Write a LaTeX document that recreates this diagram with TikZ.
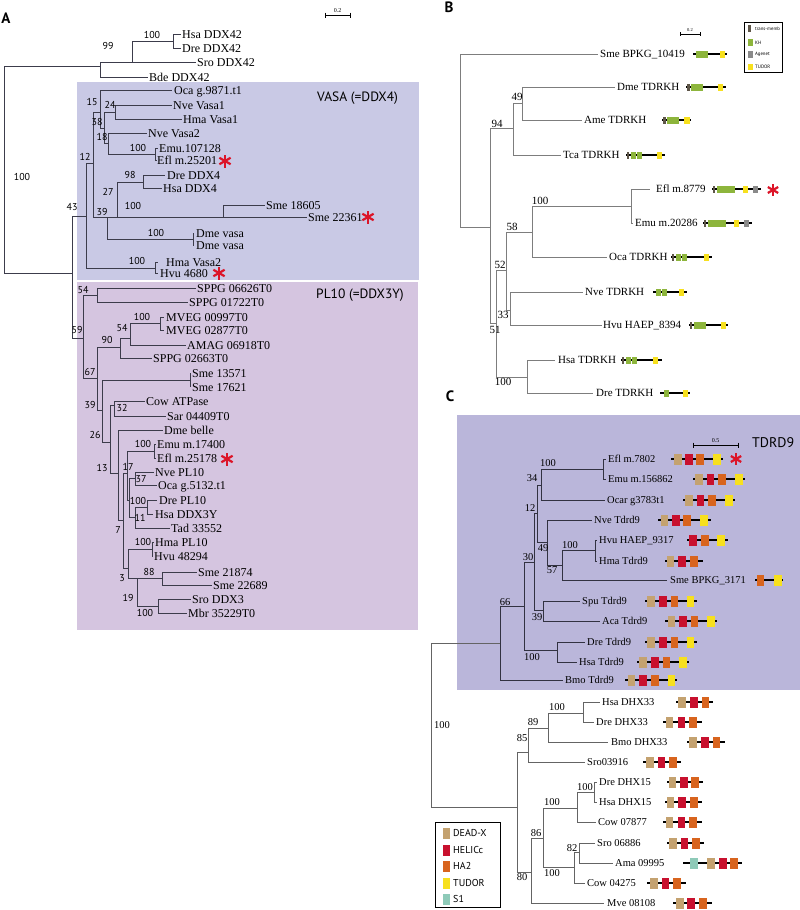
\documentclass[tikz,border=0pt]{standalone}
\usepackage{fontspec}
\setmainfont{Liberation Serif}
\newfontfamily\sansf{PT Sans}
\definecolor{vasabg}{RGB}{201,201,229}
\definecolor{plbg}{RGB}{213,197,224}
\definecolor{cbg}{RGB}{186,182,218}
\definecolor{brA}{RGB}{60,60,75}
\definecolor{brB}{RGB}{125,125,125}
\definecolor{brC}{RGB}{50,50,65}
\definecolor{brC2}{RGB}{100,100,100}
\definecolor{dX}{RGB}{196,162,112}
\definecolor{hC}{RGB}{200,16,46}
\definecolor{hA}{RGB}{216,100,30}
\definecolor{tU}{RGB}{247,224,30}
\definecolor{sO}{RGB}{142,202,184}
\definecolor{khG}{RGB}{141,181,60}
\definecolor{agG}{RGB}{138,138,138}
\definecolor{tmD}{RGB}{94,86,72}
\definecolor{astR}{RGB}{220,20,40}
\tikzset{
  brA/.style={draw=brA, line width=0.75pt},
  brB/.style={draw=brB, line width=0.6pt},
  brC/.style={draw=brC, line width=0.75pt},
  brC2/.style={draw=brC2, line width=0.75pt},
  labA/.style={anchor=west, inner sep=0pt, font=\fontsize{12}{12}\selectfont, text height=8.2pt, text depth=0pt},
  labB/.style={anchor=west, inner sep=0pt, font=\fontsize{11}{11}\selectfont, text height=7.5pt, text depth=0pt},
  labC/.style={anchor=west, inner sep=0pt, font=\fontsize{10.5}{10.5}\selectfont, text height=7.2pt, text depth=0pt},
  bsA/.style={inner sep=0pt, font=\sansf\fontsize{10}{10}\selectfont},
  bsB/.style={inner sep=0pt, font=\fontsize{11}{11}\selectfont},
  bsC/.style={inner sep=0pt, font=\fontsize{10.5}{10.5}\selectfont},
  panel/.style={inner sep=0pt, font=\sansf\bfseries\fontsize{15}{15}\selectfont},
  grp/.style={anchor=west, inner sep=0pt, font=\sansf\fontsize{13.5}{13.5}\selectfont},
  astk/.style={draw=astR, line width=2.2pt},
  dline/.style={draw=black, line width=1.4pt},
  dlineB/.style={draw=black, line width=1.2pt},
  sbar/.style={draw=black, line width=0.5pt},
  legtxt/.style={anchor=west, inner sep=0pt, font=\sansf\fontsize{10}{10}\selectfont},
  legtxtB/.style={anchor=west, inner sep=0pt, font=\sansf\fontsize{4.8}{4.8}\selectfont}
}
\newcommand\lf[6]{\coordinate (#2) at (#3,#4); \node[#1] (#2t) at (#5,#4) {#6};}
\newcommand\tr[3]{\foreach \cc in {#3}{\draw[#1] (#2) |- (\cc);}}
\newcommand\rast[3]{\foreach \ang in {90,30,-30,-90,-150,150}{\draw[astk] (#1,#2) -- ++(\ang:#3);}}
\newcommand\domC[4]{\draw[dline] (#1,#3) -- (#2,#3);
  \foreach \cl/\xx in {#4}{\fill[\cl] (\xx-3.8,#3-5.5) rectangle (\xx+3.8,#3+5.5);}}
\newcommand\domB[4]{\draw[dlineB] (#1,#3) -- (#2,#3);
  \foreach \cl/\xx/\hw in {#4}{\fill[\cl] (\xx-\hw,#3-3.5) rectangle (\xx+\hw,#3+3.5);}}
\begin{document}
\begin{tikzpicture}[x=1pt,y=-1pt]
\useasboundingbox (0,0) rectangle (800,910);
\fill[white] (0,0) rectangle (800,910);
% backgrounds
\fill[vasabg] (77,82) rectangle (419,280);
\fill[plbg] (77,282) rectangle (418,630);
\fill[cbg] (457,415) rectangle (800,690);

% ================= PANEL A =================
\node[panel] (pA) at (6,18) {A};
\draw[sbar] (325,15) -- (350,15); \draw[sbar] (325,12.5) -- (325,17.5); \draw[sbar] (350,12.5) -- (350,17.5);
\node[inner sep=0pt, font=\fontsize{6}{6}\selectfont] (sA) at (337.5,11) {0.2};
\node[grp] (gV) at (317,98) {VASA (=DDX4)};
\node[grp] (gP) at (316,295) {PL10 (=DDX3Y)};

\coordinate (rA) at (4,170);
\coordinate (a99) at (100,66);
\coordinate (aX) at (132,62);
\coordinate (a100h) at (173,41);
\coordinate (a43) at (72,273);
\coordinate (a12) at (86,216);
\coordinate (aA) at (93,163);
\coordinate (a15) at (100,112);
\coordinate (a38) at (104,128);
\coordinate (a24) at (115,112);
\coordinate (a18) at (108,143);
\coordinate (a100e) at (155,154);
\coordinate (a39) at (107,217);
\coordinate (a27) at (117,217);
\coordinate (a98) at (143,182);
\coordinate (aSme) at (223,217);
\coordinate (a100d) at (193,239);
\coordinate (aHma) at (155,268);
\coordinate (a59) at (83,338);
\coordinate (a54a) at (97,295);
\coordinate (a67) at (97,378);
\coordinate (a90) at (120,347);
\coordinate (a54m) at (130,338);
\coordinate (a100mv) at (160,323);
\coordinate (a39b) at (102,410);
\coordinate (aSme2) at (190,380);
\coordinate (a26) at (110,442);
\coordinate (a32) at (114,405);
\coordinate (a13) at (118,473);
\coordinate (a7) at (123,520);
\coordinate (aXe) at (127,473);
\coordinate (a17) at (129,500);
\coordinate (a37) at (135,478);
\coordinate (a11) at (135,517);
\coordinate (a100dre) at (147,507);
\coordinate (a100emu) at (154,451);
\coordinate (a3) at (128,568);
\coordinate (a100hp) at (152,549);
\coordinate (a19) at (137,578);
\coordinate (a88) at (162,578);
\coordinate (a100mbr) at (158,606);

\lf{labA}{hsa42}{181}{34}{182}{Hsa DDX42}
\lf{labA}{dre42}{181}{48}{182}{Dre DDX42}
\lf{labA}{sro42}{196}{62}{197}{Sro DDX42}
\lf{labA}{bde42}{148}{77}{149}{Bde DDX42}
\lf{labA}{oca98}{172}{90}{174}{Oca g.9871.t1}
\lf{labA}{nvev1}{172}{105}{173}{Nve Vasa1}
\lf{labA}{hmav1}{182}{119}{183}{Hma Vasa1}
\lf{labA}{nvev2}{147}{133}{148}{Nve Vasa2}
\lf{labA}{emu107}{158}{148}{159}{Emu.107128}
\lf{labA}{efl252}{157}{160}{157}{Efl m.25201}
\lf{labA}{dre4}{165}{175}{167}{Dre DDX4}
\lf{labA}{hsa4}{162}{188}{163}{Hsa DDX4}
\lf{labA}{sme186}{265}{205}{266}{Sme 18605}
\lf{labA}{sme223}{307}{217}{308}{Sme 22361}
\lf{labA}{dmev1}{194}{233}{196}{Dme vasa}
\lf{labA}{dmev2}{194}{245}{196}{Dme vasa}
\lf{labA}{hmav2}{158}{262}{166}{Hma Vasa2}
\lf{labA}{hvu468}{158}{273}{160}{Hvu 4680}
\lf{labA}{sp066}{196}{288}{197}{SPPG 06626T0}
\lf{labA}{sp017}{188}{302}{189}{SPPG 01722T0}
\lf{labA}{mv009}{164}{317}{166}{MVEG 00997T0}
\lf{labA}{mv028}{164}{330}{166}{MVEG 02877T0}
\lf{labA}{amag}{186}{345}{187}{AMAG 06918T0}
\lf{labA}{sp026}{152}{358}{153}{SPPG 02663T0}
\lf{labA}{sme135}{190}{373}{192}{Sme 13571}
\lf{labA}{sme176}{190}{387}{192}{Sme 17621}
\lf{labA}{cowatp}{145}{401}{146}{Cow ATPase}
\lf{labA}{sar}{166}{416}{167}{Sar 04409T0}
\lf{labA}{dmebel}{163}{430}{164}{Dme belle}
\lf{labA}{emu174}{156}{444}{157}{Emu m.17400}
\lf{labA}{efl251}{156}{458}{157}{Efl m.25178}
\lf{labA}{nvepl}{154}{472}{155}{Nve PL10}
\lf{labA}{oca513}{157}{485}{158}{Oca g.5132.t1}
\lf{labA}{drepl}{157}{500}{159}{Dre PL10}
\lf{labA}{hsa3y}{153}{514}{155}{Hsa DDX3Y}
\lf{labA}{tad}{170}{528}{171}{Tad 33552}
\lf{labA}{hmapl}{154}{542}{155}{Hma PL10}
\lf{labA}{hvu482}{153}{556}{154}{Hvu 48294}
\lf{labA}{sme218}{197}{572}{198}{Sme 21874}
\lf{labA}{sme226}{212}{585}{213}{Sme 22689}
\lf{labA}{sroddx3}{191}{599}{192}{Sro DDX3}
\lf{labA}{mbr}{187}{613}{188}{Mbr 35229T0}

\tr{brA}{rA}{a99,a43}
\tr{brA}{a99}{aX,bde42}
\tr{brA}{aX}{a100h,sro42}
\tr{brA}{a100h}{hsa42,dre42}
\tr{brA}{a43}{a12,a59}
\tr{brA}{a12}{aA,aHma}
\tr{brA}{aA}{a15,a39}
\tr{brA}{a15}{oca98,a38}
\tr{brA}{a38}{a24,a18}
\tr{brA}{a24}{nvev1,hmav1}
\tr{brA}{a18}{nvev2,a100e}
\tr{brA}{a100e}{emu107,efl252}
\tr{brA}{a39}{a27,a100d}
\tr{brA}{a27}{a98,aSme}
\tr{brA}{a98}{dre4,hsa4}
\tr{brA}{aSme}{sme186,sme223}
\tr{brA}{a100d}{dmev1,dmev2}
\tr{brA}{aHma}{hmav2,hvu468}
\tr{brA}{a59}{a54a,a67}
\tr{brA}{a54a}{sp066,sp017}
\tr{brA}{a67}{a90,a39b}
\tr{brA}{a90}{a54m,sp026}
\tr{brA}{a54m}{a100mv,amag}
\tr{brA}{a100mv}{mv009,mv028}
\tr{brA}{a39b}{aSme2,a26}
\tr{brA}{aSme2}{sme135,sme176}
\tr{brA}{a26}{a32,a13}
\tr{brA}{a32}{cowatp,sar}
\tr{brA}{a13}{dmebel,a7}
\tr{brA}{a7}{aXe,a3}
\tr{brA}{aXe}{a100emu,a17}
\tr{brA}{a100emu}{emu174,efl251}
\tr{brA}{a17}{a37,a11}
\tr{brA}{a37}{nvepl,oca513}
\tr{brA}{a11}{a100dre,tad}
\tr{brA}{a100dre}{drepl,hsa3y}
\tr{brA}{a3}{a100hp,a19}
\tr{brA}{a100hp}{hmapl,hvu482}
\tr{brA}{a19}{a88,a100mbr}
\tr{brA}{a88}{sme218,sme226}
\tr{brA}{a100mbr}{sroddx3,mbr}

% bootstrap A
\node[bsA] (bA1) at (108,46) {99};
\node[bsA] (bA2) at (152,35) {100};
\node[bsA] (bA3) at (22,177) {100};
\node[bsA] (bA4) at (92,102) {15};
\node[bsA] (bA5) at (110,105) {24};
\node[bsA] (bA6) at (97,122) {38};
\node[bsA] (bA7) at (102,137) {18};
\node[bsA] (bA8) at (138,148) {100};
\node[bsA] (bA9) at (85,157) {12};
\node[bsA] (bA10) at (130,175) {98};
\node[bsA] (bA11) at (108,192) {27};
\node[bsA] (bA12) at (133,206) {100};
\node[bsA] (bA13) at (102,212) {39};
\node[bsA] (bA14) at (156,233) {100};
\node[bsA] (bA15) at (72,207) {43};
\node[bsA] (bA16) at (137,261) {100};
\node[bsA] (bA17) at (83,290) {54};
\node[bsA] (bA18) at (77,330) {59};
\node[bsA] (bA19) at (142,317) {100};
\node[bsA] (bA20) at (122,328) {54};
\node[bsA] (bA21) at (107,340) {90};
\node[bsA] (bA22) at (90,372) {67};
\node[bsA] (bA23) at (90,405) {39};
\node[bsA] (bA24) at (122,408) {32};
\node[bsA] (bA25) at (95,435) {26};
\node[bsA] (bA26) at (143,444) {100};
\node[bsA] (bA27) at (102,468) {13};
\node[bsA] (bA28) at (128,467) {17};
\node[bsA] (bA29) at (141,479) {37};
\node[bsA] (bA30) at (138,501) {100};
\node[bsA] (bA31) at (140,518) {11};
\node[bsA] (bA32) at (118,530) {7};
\node[bsA] (bA33) at (143,542) {100};
\node[bsA] (bA34) at (149,572) {88};
\node[bsA] (bA35) at (122,578) {3};
\node[bsA] (bA36) at (128,598) {19};
\node[bsA] (bA37) at (145,613) {100};

\rast{225}{161}{6.5}
\rast{368}{217}{6.5}
\rast{219}{273}{6.5}
\rast{227}{459}{6.5}

% ================= PANEL B =================
\node[panel] (pB) at (449,7) {B};
\draw[sbar] (680,34) -- (700,34); \draw[sbar] (680,32) -- (680,36); \draw[sbar] (700,32) -- (700,36);
\node[inner sep=0pt, font=\fontsize{4.5}{4.5}\selectfont] (sB) at (690,30.5) {0.2};
\draw[black, line width=0.6pt] (744,22) rectangle (782,72);
\fill[tmD] (748,25) rectangle (750.5,32);
\fill[khG] (748,39) rectangle (752.5,46);
\fill[agG] (748,51) rectangle (752.5,57.5);
\fill[tU] (748,63.5) rectangle (752.5,70);
\node[legtxtB] (lB1) at (755,28.5) {trans-memb};
\node[legtxtB] (lB2) at (755,42.5) {KH};
\node[legtxtB] (lB3) at (755,54.5) {Agenet};
\node[legtxtB] (lB4) at (755,67) {TUDOR};

\coordinate (rB) at (460,140);
\coordinate (b2) at (490,227);
\coordinate (b94) at (513,128);
\coordinate (b49) at (522,103);
\coordinate (b51) at (496,323);
\coordinate (b52) at (506,270);
\coordinate (b58) at (532,232);
\coordinate (b100ee) at (631,206);
\coordinate (b33) at (510,310);
\coordinate (b100hd) at (527,377);

\lf{labB}{bsme}{598}{54}{600}{Sme BPKG\_10419}
\lf{labB}{bdme}{615}{87}{617}{Dme TDRKH}
\lf{labB}{bame}{582}{120}{584}{Ame TDRKH}
\lf{labB}{btca}{561}{155}{563}{Tca TDRKH}
\lf{labB}{befl}{650}{189}{656}{Efl m.8779}
\lf{labB}{bemu}{633}{223}{635}{Emu m.20286}
\lf{labB}{boca}{607}{257}{609}{Oca TDRKH}
\lf{labB}{bnve}{583}{292}{585}{Nve TDRKH}
\lf{labB}{bhvu}{602}{325}{603}{Hvu HAEP\_8394}
\lf{labB}{bhsa}{555}{360}{558}{Hsa TDRKH}
\lf{labB}{bdre}{593}{393}{596}{Dre TDRKH}

\tr{brB}{rB}{bsme,b2}
\tr{brB}{b2}{b94,b51}
\tr{brB}{b94}{b49,btca}
\tr{brB}{b49}{bdme,bame}
\tr{brB}{b51}{b52,b100hd}
\tr{brB}{b52}{b58,b33}
\tr{brB}{b58}{b100ee,boca}
\tr{brB}{b100ee}{befl,bemu}
\tr{brB}{b33}{bnve,bhvu}
\tr{brB}{b100hd}{bhsa,bdre}

\node[bsB] (bB1) at (517,97) {49};
\node[bsB] (bB2) at (497,124) {94};
\node[bsB] (bB3) at (540,201) {100};
\node[bsB] (bB4) at (512,227) {58};
\node[bsB] (bB5) at (500,265) {52};
\node[bsB] (bB6) at (503,315) {33};
\node[bsB] (bB7) at (495,330) {51};
\node[bsB] (bB8) at (503,382) {100};

\domB{693}{727}{54}{khG/699/2.7, khG/704.8/2.7, tU/722.5/2.6}
\domB{686}{726}{87}{tmD/688.5/1.3, khG/694/2.7, khG/699.8/2.7, tU/720.5/2.6}
\domB{662}{691}{120}{tmD/664.5/1.3, khG/670/2.7, khG/675.8/2.7, tU/687/2.6}
\domB{626}{665}{155}{tmD/628/1.3, khG/633.5/2.7, khG/639.3/2.7, tU/659.5/2.6}
\domB{712}{761}{189}{tmD/714/1.3, khG/720/2.7, khG/726/2.7, khG/732/2.7, tU/745.5/2.6, agG/755.5/2.6}
\domB{703}{752}{223}{tmD/705/1.3, khG/711/2.7, khG/717/2.7, khG/723/2.7, tU/736.5/2.6, agG/746.5/2.6}
\domB{671}{712}{257}{tmD/673/1.3, khG/678.5/2.7, khG/684.3/2.7, tU/706.5/2.6}
\domB{653}{687}{292}{khG/658.5/2.7, khG/664.3/2.7, tU/681.5/2.6}
\domB{689}{728}{325}{tmD/691/1.3, khG/697/2.7, khG/703/2.7, tU/723.5/2.6}
\domB{621}{662}{360}{tmD/623/1.3, khG/628.5/2.7, khG/634.3/2.7, tU/655.5/2.6}
\domB{660}{690}{393}{khG/666.5/2.7, tU/685.5/2.6}
\rast{773}{190}{6}

% ================= PANEL C =================
\node[panel] (pC) at (450,396) {C};
\node[grp, font=\sansf\fontsize{14}{14}\selectfont] (gT) at (752,443) {TDRD9};
\draw[sbar] (693,445) -- (738,445); \draw[sbar] (693,442.5) -- (693,447.5); \draw[sbar] (738,442.5) -- (738,447.5);
\node[inner sep=0pt, font=\fontsize{6}{6}\selectfont] (sC) at (715.5,440.5) {0.5};

\coordinate (rC) at (431,700);
\coordinate (c66) at (500,643);
\coordinate (c30) at (524,606);
\coordinate (c12) at (534,562);
\coordinate (cmid) at (537,513);
\coordinate (c34) at (541,485);
\coordinate (c100ee) at (603,469);
\coordinate (c49) at (547,542);
\coordinate (c57) at (562,565);
\coordinate (c100hh) at (595,550);
\coordinate (c39) at (543,610);
\coordinate (c100td) at (557,650);
\coordinate (cL) at (517,807);
\coordinate (c85) at (528,752);
\coordinate (c89) at (548,728);
\coordinate (c100d33) at (583,713);
\coordinate (c80) at (531,872);
\coordinate (c86) at (543,838);
\coordinate (c100a) at (577,808);
\coordinate (c100d15) at (594,792);
\coordinate (c100b) at (574,867);
\coordinate (c82) at (579,852);

\lf{labC}{cefl}{606}{459}{608}{Efl m.7802}
\lf{labC}{cemu}{606}{479}{608}{Emu m.156862}
\lf{labC}{cocar}{605}{500}{607}{Ocar g3783t1}
\lf{labC}{cnve}{592}{520}{594}{Nve Tdrd9}
\lf{labC}{chvu}{597}{540}{599}{Hvu HAEP\_9317}
\lf{labC}{chma}{597}{561}{599}{Hma Tdrd9}
\lf{labC}{csme}{667}{580}{670}{Sme BPKG\_3171}
\lf{labC}{cspu}{580}{601}{582}{Spu Tdrd9}
\lf{labC}{caca}{600}{621}{602}{Aca Tdrd9}
\lf{labC}{cdre}{585}{642}{587}{Dre Tdrd9}
\lf{labC}{chsa}{577}{662}{579}{Hsa Tdrd9}
\lf{labC}{cbmo}{563}{680}{565}{Bmo Tdrd9}
\lf{labC}{chsa33}{600}{702}{602}{Hsa DHX33}
\lf{labC}{cdre33}{594}{722}{596}{Dre DHX33}
\lf{labC}{cbmo33}{608}{742}{611}{Bmo DHX33}
\lf{labC}{csro39}{585}{762}{587}{Sro03916}
\lf{labC}{cdre15}{597}{782}{599}{Dre DHX15}
\lf{labC}{chsa15}{597}{802}{599}{Hsa DHX15}
\lf{labC}{ccow78}{596}{822}{598}{Cow 07877}
\lf{labC}{csro68}{595}{843}{597}{Sro 06886}
\lf{labC}{cama}{613}{863}{615}{Ama 09995}
\lf{labC}{ccow42}{585}{883}{587}{Cow 04275}
\lf{labC}{cmve}{604}{903}{607}{Mve 08108}

\tr{brC2}{rC}{c66,cL}
\tr{brC}{c66}{c30,cbmo}
\tr{brC}{c30}{c12,c100td}
\tr{brC}{c12}{cmid,c39}
\tr{brC}{cmid}{c34,c49}
\tr{brC}{c34}{c100ee,cocar}
\tr{brC}{c100ee}{cefl,cemu}
\tr{brC}{c49}{cnve,c57}
\tr{brC}{c57}{c100hh,csme}
\tr{brC}{c100hh}{chvu,chma}
\tr{brC}{c39}{cspu,caca}
\tr{brC}{c100td}{cdre,chsa}
\tr{brC2}{cL}{c85,c80}
\tr{brC2}{c85}{c89,csro39}
\tr{brC2}{c89}{c100d33,cbmo33}
\tr{brC2}{c100d33}{chsa33,cdre33}
\tr{brC2}{c80}{c86,cmve}
\tr{brC2}{c86}{c100a,c100b}
\tr{brC2}{c100a}{c100d15,ccow78}
\tr{brC2}{c100d15}{cdre15,chsa15}
\tr{brC2}{c100b}{c82,ccow42}
\tr{brC2}{c82}{csro68,cama}

\node[bsC] (bC1) at (548,463) {100};
\node[bsC] (bC2) at (532,478) {34};
\node[bsC] (bC3) at (530,508) {12};
\node[bsC] (bC4) at (543,548) {49};
\node[bsC] (bC5) at (570,545) {100};
\node[bsC] (bC6) at (552,570) {57};
\node[bsC] (bC7) at (528,557) {30};
\node[bsC] (bC8) at (505,602) {66};
\node[bsC] (bC9) at (537,617) {39};
\node[bsC] (bC10) at (532,657) {100};
\node[bsC] (bC11) at (442,725) {100};
\node[bsC] (bC12) at (557,707) {100};
\node[bsC] (bC13) at (533,722) {89};
\node[bsC] (bC14) at (522,738) {85};
\node[bsC] (bC15) at (585,787) {100};
\node[bsC] (bC16) at (552,802) {100};
\node[bsC] (bC17) at (536,833) {86};
\node[bsC] (bC18) at (572,848) {82};
\node[bsC] (bC19) at (552,873) {100};
\node[bsC] (bC20) at (522,877) {80};

\domC{671}{723}{459}{dX/678, hC/689, hA/700, tU/717}
\domC{693}{745}{479}{dX/699, hC/710.5, hA/722, tU/739}
\domC{683}{735}{500}{dX/689, hC/700.5, hA/712, tU/729}
\domC{658}{711}{520}{dX/664.5, hC/676, hA/687, tU/704}
\domC{687}{728}{540}{hC/693, hA/705, tU/721}
\domC{665}{703}{561}{dX/670.5, hC/682, hA/694}
\domC{755}{783}{580}{hA/760.5, tU/778}
\domC{645}{697}{601}{dX/651, hC/663, hA/674.5, tU/690.5}
\domC{665}{717}{621}{dX/671.5, hC/683, hA/694.5, tU/711}
\domC{645}{697}{642}{dX/651, hC/663, hA/674.5, tU/690.5}
\domC{637}{689}{662}{dX/643, hC/655, hA/666.5, tU/683}
\domC{625}{677}{680}{dX/631.5, hC/643, hA/655, tU/671.5}
\domC{676}{713}{702}{dX/682, hC/694, hA/705.5}
\domC{663}{702}{722}{dX/669.5, hC/681.5, hA/693}
\domC{687}{725}{742}{dX/693, hC/705, hA/716.5}
\domC{643}{681}{762}{dX/650, hC/661.5, hA/673}
\domC{667}{703}{782}{dX/672.5, hC/684, hA/695}
\domC{665}{702}{802}{dX/670.5, hC/682, hA/694}
\domC{663}{702}{822}{dX/669.5, hC/681.5, hA/693}
\domC{667}{704}{843}{dX/673, hC/684.5, hA/696}
\domC{683}{742}{863}{sO/694, dX/711, hC/723, hA/734}
\domC{647}{686}{883}{dX/654, hC/665.5, hA/677}
\domC{673}{712}{903}{dX/680, hC/691, hA/703}
\rast{736}{459}{6}

% legend C
\draw[black, line width=0.8pt] (435,822) rectangle (500,907);
\fill[dX] (442.5,827.5) rectangle (450,838.5);
\fill[hC] (442.5,844.5) rectangle (450,855.5);
\fill[hA] (442.5,860.5) rectangle (450,871.5);
\fill[tU] (442.5,877.5) rectangle (450,888.5);
\fill[sO] (442.5,893.5) rectangle (450,904.5);
\node[legtxt] (lC1) at (453,833) {DEAD-X};
\node[legtxt] (lC2) at (453,850) {HELICc};
\node[legtxt] (lC3) at (453,866) {HA2};
\node[legtxt] (lC4) at (453,883) {TUDOR};
\node[legtxt] (lC5) at (453,899) {S1};
\end{tikzpicture}
\end{document}
